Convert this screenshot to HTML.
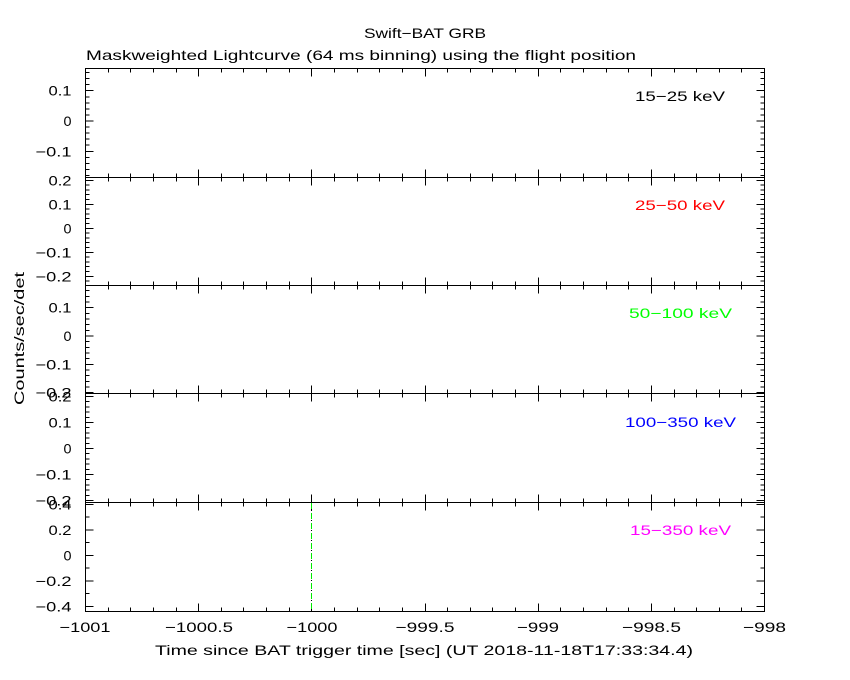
<!DOCTYPE html>
<html>
<head>
<meta charset="utf-8">
<style>
  html, body { margin: 0; padding: 0; background: #ffffff; }
  svg { display: block; }
  text { font-family: "Liberation Sans", "DejaVu Sans", sans-serif; font-size: 14px; fill: #000; }
</style>
</head>
<body>
<svg width="850" height="680" viewBox="0 0 850 680" xmlns="http://www.w3.org/2000/svg">
  <rect x="0" y="0" width="850" height="680" fill="#ffffff"/>
  <defs>
    <path id="xd" fill="none" stroke="#000" stroke-width="1" d="M85.5 0v8M108.5 0v4M130.5 0v4M153.5 0v4M176.5 0v4M198.5 0v8M221.5 0v4M243.5 0v4M266.5 0v4M289.5 0v4M311.5 0v8M334.5 0v4M357.5 0v4M379.5 0v4M402.5 0v4M425.5 0v8M447.5 0v4M470.5 0v4M492.5 0v4M515.5 0v4M538.5 0v8M560.5 0v4M583.5 0v4M606.5 0v4M628.5 0v4M651.5 0v8M674.5 0v4M696.5 0v4M719.5 0v4M741.5 0v4M764.5 0v8"/>
    <path id="xu" fill="none" stroke="#000" stroke-width="1" d="M85.5 0v-8M108.5 0v-4M130.5 0v-4M153.5 0v-4M176.5 0v-4M198.5 0v-8M221.5 0v-4M243.5 0v-4M266.5 0v-4M289.5 0v-4M311.5 0v-8M334.5 0v-4M357.5 0v-4M379.5 0v-4M402.5 0v-4M425.5 0v-8M447.5 0v-4M470.5 0v-4M492.5 0v-4M515.5 0v-4M538.5 0v-8M560.5 0v-4M583.5 0v-4M606.5 0v-4M628.5 0v-4M651.5 0v-8M674.5 0v-4M696.5 0v-4M719.5 0v-4M741.5 0v-4M764.5 0v-8"/>
    <path id="yl" fill="none" stroke="#000" stroke-width="1" d="
      M85.5 72.5h4M85.5 78.6h4M85.5 84.6h4M85.5 90.7h8M85.5 96.8h4M85.5 102.8h4M85.5 108.9h4M85.5 114.9h4M85.5 121h8M85.5 127.1h4M85.5 133.1h4M85.5 139.2h4M85.5 145.2h4M85.5 151.3h8M85.5 157.4h4M85.5 163.4h4M85.5 169.5h4M85.5 175.5h4
      M85.5 180.3h8M85.5 185.1h4M85.5 189.9h4M85.5 194.7h4M85.5 199.5h4M85.5 204.3h8M85.5 209.1h4M85.5 213.9h4M85.5 218.7h4M85.5 223.5h4M85.5 228.3h8M85.5 233.1h4M85.5 237.9h4M85.5 242.7h4M85.5 247.5h4M85.5 252.3h8M85.5 257.1h4M85.5 261.9h4M85.5 266.7h4M85.5 271.5h4M85.5 276.3h8M85.5 281.1h4
      M85.5 290.7h4M85.5 296.4h4M85.5 302h4M85.5 307.7h8M85.5 313.4h4M85.5 319h4M85.5 324.7h4M85.5 330.3h4M85.5 336h8M85.5 341.7h4M85.5 347.3h4M85.5 353h4M85.5 358.6h4M85.5 364.3h8M85.5 370h4M85.5 375.6h4M85.5 381.3h4M85.5 386.9h4M85.5 392.6h8
      M85.5 396.5h8M85.5 401.7h4M85.5 406.9h4M85.5 412.1h4M85.5 417.3h4M85.5 422.5h8M85.5 427.7h4M85.5 432.9h4M85.5 438.1h4M85.5 443.3h4M85.5 448.5h8M85.5 453.7h4M85.5 458.9h4M85.5 464.1h4M85.5 469.3h4M85.5 474.5h8M85.5 479.7h4M85.5 484.9h4M85.5 490.1h4M85.5 495.3h4M85.5 500.5h8
      M85.5 504.3h8M85.5 517h4M85.5 529.8h8M85.5 542.5h4M85.5 555.3h8M85.5 568h4M85.5 580.8h8M85.5 593.5h4M85.5 606.3h8"/>
  </defs>

  <g shape-rendering="crispEdges">
    <!-- frame -->
    <rect x="85.5" y="68.5" width="679" height="543" fill="none" stroke="#000" stroke-width="1"/>
    <path d="M85.5 177.5H764.5M85.5 285.5H764.5M85.5 393.5H764.5M85.5 502.5H764.5" stroke="#000" stroke-width="1" fill="none"/>

    <!-- x ticks on every panel boundary -->
    <use href="#xd" y="68.5"/>
    <use href="#xu" y="177.5"/>
    <use href="#xd" y="177.5"/>
    <use href="#xu" y="285.5"/>
    <use href="#xd" y="285.5"/>
    <use href="#xu" y="393.5"/>
    <use href="#xd" y="393.5"/>
    <use href="#xu" y="502.5"/>
    <use href="#xd" y="502.5"/>
    <use href="#xu" y="611.5"/>

    <!-- y ticks left and right -->
    <use href="#yl"/>
    <use href="#yl" transform="translate(850,0) scale(-1,1)"/>

    <!-- trigger marker line in bottom panel -->
    <line x1="311.5" y1="503" x2="311.5" y2="611" stroke="#00ee00" stroke-width="1" stroke-dasharray="6 4"/>
    <line x1="311.5" y1="503" x2="311.5" y2="611" stroke="#000" stroke-width="1" stroke-dasharray="1 9" stroke-dashoffset="-7"/>
  </g>

  <!-- titles -->
  <text x="364" y="38" textLength="122" lengthAdjust="spacingAndGlyphs">Swift−BAT GRB</text>
  <text x="86" y="60" textLength="550" lengthAdjust="spacingAndGlyphs">Maskweighted Lightcurve (64 ms binning) using the flight position</text>

  <!-- y tick labels -->
  <g text-anchor="end">
    <text x="71.5" y="95.7" textLength="23" lengthAdjust="spacingAndGlyphs">0.1</text>
    <text x="71.5" y="126" textLength="8" lengthAdjust="spacingAndGlyphs">0</text>
    <text x="71.5" y="156.3" textLength="36" lengthAdjust="spacingAndGlyphs">−0.1</text>

    <text x="71.5" y="185.3" textLength="23" lengthAdjust="spacingAndGlyphs">0.2</text>
    <text x="71.5" y="209.3" textLength="23" lengthAdjust="spacingAndGlyphs">0.1</text>
    <text x="71.5" y="233.3" textLength="8" lengthAdjust="spacingAndGlyphs">0</text>
    <text x="71.5" y="257.3" textLength="36" lengthAdjust="spacingAndGlyphs">−0.1</text>
    <text x="71.5" y="281.3" textLength="36" lengthAdjust="spacingAndGlyphs">−0.2</text>

    <text x="71.5" y="312.7" textLength="23" lengthAdjust="spacingAndGlyphs">0.1</text>
    <text x="71.5" y="341" textLength="8" lengthAdjust="spacingAndGlyphs">0</text>
    <text x="71.5" y="369.3" textLength="36" lengthAdjust="spacingAndGlyphs">−0.1</text>
    <text x="71.5" y="397.6" textLength="36" lengthAdjust="spacingAndGlyphs">−0.2</text>

    <text x="71.5" y="401.5" textLength="23" lengthAdjust="spacingAndGlyphs">0.2</text>
    <text x="71.5" y="427.5" textLength="23" lengthAdjust="spacingAndGlyphs">0.1</text>
    <text x="71.5" y="453.5" textLength="8" lengthAdjust="spacingAndGlyphs">0</text>
    <text x="71.5" y="479.5" textLength="36" lengthAdjust="spacingAndGlyphs">−0.1</text>
    <text x="71.5" y="505.5" textLength="36" lengthAdjust="spacingAndGlyphs">−0.2</text>

    <text x="71.5" y="509.3" textLength="23" lengthAdjust="spacingAndGlyphs">0.4</text>
    <text x="71.5" y="534.8" textLength="23" lengthAdjust="spacingAndGlyphs">0.2</text>
    <text x="71.5" y="560.3" textLength="8" lengthAdjust="spacingAndGlyphs">0</text>
    <text x="71.5" y="585.8" textLength="36" lengthAdjust="spacingAndGlyphs">−0.2</text>
    <text x="71.5" y="611.3" textLength="36" lengthAdjust="spacingAndGlyphs">−0.4</text>
  </g>

  <!-- x tick labels -->
  <g text-anchor="middle">
    <text x="85" y="632" textLength="51" lengthAdjust="spacingAndGlyphs">−1001</text>
    <text x="199" y="632" textLength="68" lengthAdjust="spacingAndGlyphs">−1000.5</text>
    <text x="312" y="632" textLength="51" lengthAdjust="spacingAndGlyphs">−1000</text>
    <text x="425" y="632" textLength="59" lengthAdjust="spacingAndGlyphs">−999.5</text>
    <text x="538" y="632" textLength="42" lengthAdjust="spacingAndGlyphs">−999</text>
    <text x="651.5" y="632" textLength="59" lengthAdjust="spacingAndGlyphs">−998.5</text>
    <text x="764.5" y="632" textLength="43" lengthAdjust="spacingAndGlyphs">−998</text>
  </g>

  <!-- axis titles -->
  <text x="155" y="655" textLength="538" lengthAdjust="spacingAndGlyphs">Time since BAT trigger time [sec] (UT 2018-11-18T17:33:34.4)</text>
  <text transform="translate(24,338.5) rotate(-90)" text-anchor="middle" textLength="133" lengthAdjust="spacingAndGlyphs">Counts/sec/det</text>

  <!-- band labels -->
  <g text-anchor="middle">
    <text x="680" y="101" textLength="90" lengthAdjust="spacingAndGlyphs">15−25 keV</text>
    <text x="680" y="210" textLength="90" lengthAdjust="spacingAndGlyphs" style="fill:#ff0000">25−50 keV</text>
    <text x="680.5" y="318" textLength="103" lengthAdjust="spacingAndGlyphs" style="fill:#00ff00">50−100 keV</text>
    <text x="680.5" y="427" textLength="111" lengthAdjust="spacingAndGlyphs" style="fill:#0000ff">100−350 keV</text>
    <text x="680.5" y="535" textLength="101" lengthAdjust="spacingAndGlyphs" style="fill:#ff00ff">15−350 keV</text>
  </g>
</svg>
</body>
</html>
